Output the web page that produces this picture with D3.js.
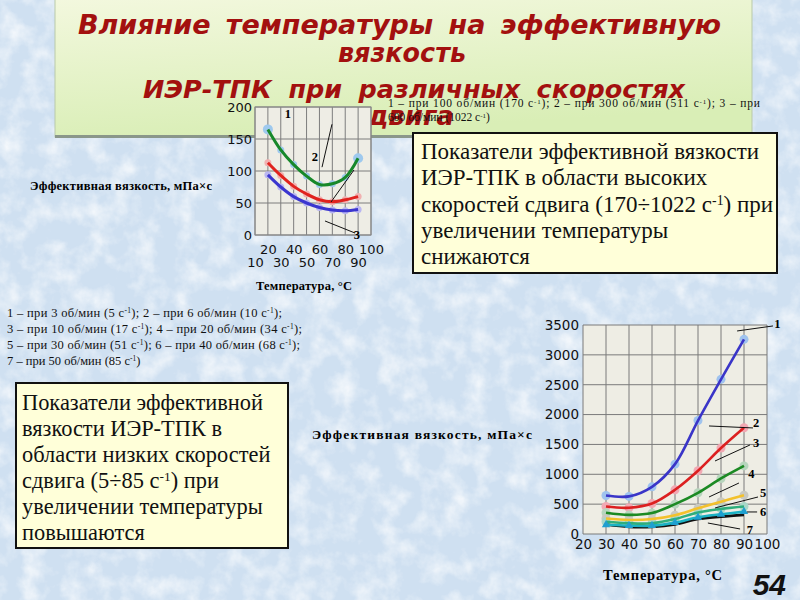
<!DOCTYPE html>
<html><head><meta charset="utf-8">
<script src="https://cdn.jsdelivr.net/npm/d3@7"></script>
<style>body{margin:0;background:#d5e5f3}svg{display:block}</style>
</head><body>
<svg id="c" width="800" height="600"></svg>
<script>
// ---------- data ----------
const titleLines = ["Влияние температуры на эффективную", "вязкость", "ИЭР-ТПК при различных скоростях", "сдвига"];

const smallTemps = [20, 30, 40, 50, 60, 70, 80, 90];
const smallSeries1 = [165, 133, 110, 92, 79, 80, 90, 120];
const smallSeries2 = [113, 93, 76, 64, 55, 52, 55, 60];
const smallSeries3 = [94, 75, 60, 50, 43, 39, 38, 40];
const smallYTicks = [0, 50, 100, 150, 200];
const smallXTicksA = [20, 40, 60, 80, 100];
const smallXTicksB = [10, 30, 50, 70, 90];
const smallCurveNames = ["1", "2", "3"];

const bigTemps = [30, 40, 50, 60, 70, 80, 90];
const bigSeries1 = [645, 630, 790, 1170, 1900, 2590, 3260];
const bigSeries2 = [460, 440, 510, 740, 1060, 1440, 1780];
const bigSeries3 = [355, 320, 350, 500, 690, 930, 1140];
const bigSeries4 = [260, 235, 250, 315, 430, 540, 650];
const bigSeries5 = [205, 180, 180, 250, 360, 420, 460];
const bigSeries6 = [155, 140, 140, 190, 280, 330, 375];
const bigSeries7 = [160, 120, 120, 160, 250, 290, 320];
const bigYTicks = [0, 500, 1000, 1500, 2000, 2500, 3000, 3500];
const bigXTicks = [20, 30, 40, 50, 60, 70, 80, 90, 100];
const bigCurveNames = ["1", "2", "3", "4", "5", "6", "7"];

const highLegend = ["1 – при 100 об/мин (170 с^-1^); 2 – при 300 об/мин (511 с^-1^); 3 – при", "600 об/мин (1022 с^-1^)"];
const lowLegend = ["1 – при 3  об/мин (5  с^-1^); 2 – при 6  об/мин (10  с^-1^);",
  "3 – при 10  об/мин (17  с^-1^); 4 – при 20  об/мин (34  с^-1^);",
  "5 – при 30  об/мин (51  с^-1^); 6 – при 40  об/мин (68  с^-1^);",
  "7 – при 50  об/мин (85  с^-1^)"];
const rightBoxLines = ["Показатели эффективной вязкости", "ИЭР-ТПК в области высоких", "скоростей сдвига (170÷1022 с^-1^) при", "увеличении температуры", "снижаются"];
const leftBoxLines = ["Показатели эффективной", "вязкости ИЭР-ТПК в", "области низких скоростей", "сдвига (5÷85 с^-1^) при", "увеличении температуры", "повышаются"];
const yTitle = "Эффективная вязкость, мПа×с";
const xTitle = "Температура, °С";
const pageNumber = "54";

// ---------- helpers ----------
const svg = d3.select("#c");
function richText(sel, str) {
  str.split("^").forEach((part, i) => {
    if (!part) return;
    const t = sel.append("tspan").text(part);
    if (i % 2 === 1) t.attr("baseline-shift", "super").attr("font-size", "60%");
  });
}

// ---------- background ----------
const defs = svg.append("defs");
const f = defs.append("filter").attr("id", "snow").attr("x", 0).attr("y", 0).attr("width", 1).attr("height", 1);
f.append("feTurbulence").attr("type", "fractalNoise").attr("baseFrequency", 0.045).attr("numOctaves", 4).attr("seed", 3);
f.append("feColorMatrix").attr("type", "matrix").attr("values", "0 0 0 0 1  0 0 0 0 1  0 0 0 0 1  1.8 0 0 0 -0.75");
svg.append("rect").attr("width", 800).attr("height", 600).attr("fill", "#cfe0f1");
svg.append("rect").attr("width", 800).attr("height", 600).attr("filter", "url(#snow)").attr("opacity", 0.85);

// ---------- title box ----------
const g1 = defs.append("linearGradient").attr("id", "tg").attr("x1", 0).attr("y1", 0).attr("x2", 0.3).attr("y2", 1);
g1.append("stop").attr("offset", 0).attr("stop-color", "#f3f8de");
g1.append("stop").attr("offset", 1).attr("stop-color", "#d9eeb6");
svg.append("rect").attr("x", 55).attr("y", -2).attr("width", 697).attr("height", 139)
  .attr("fill", "url(#tg)").attr("stroke", "#b9c9a9").attr("stroke-width", 1);
svg.append("rect").attr("x", 55).attr("y", 135).attr("width", 697).attr("height", 3).attr("fill", "#8a978a");

// [x start, baseline, target width, font size]
const titlePos = [[78, 34, 643, 27], [338, 62, 128, 26], [143, 98, 542, 25.5], [352, 125, 102, 26]];
svg.append("g").selectAll("text").data(titleLines).join("text")
  .attr("x", (d, i) => titlePos[i][0]).attr("y", (d, i) => titlePos[i][1])
  .attr("font-family", "DejaVu Sans").attr("font-weight", "bold").attr("font-style", "italic")
  .attr("font-size", (d, i) => titlePos[i][3]).attr("fill", "#a3100f").text(d => d)
  .each(function (d, i) {
    const el = d3.select(this);
    const nat = this.getComputedTextLength();
    const spaces = (d.match(/ /g) || []).length;
    if (spaces > 0) {
      el.attr("word-spacing", Math.max(0, (titlePos[i][2] - nat) / spaces));
    } else {
      el.attr("textLength", titlePos[i][2]).attr("lengthAdjust", "spacingAndGlyphs");
    }
  });

// ---------- small chart ----------
const xS = d3.scaleLinear().domain([10, 100]).range([255, 371]);
const yS = d3.scaleLinear().domain([0, 200]).range([235, 107]);
const sg = svg.append("g");
sg.append("rect").attr("x", xS(10)).attr("y", yS(200)).attr("width", xS(100) - xS(10)).attr("height", yS(0) - yS(200))
  .attr("fill", "#eeede5");
sg.append("g").selectAll("line").data(xS.ticks(9)).join("line")
  .attr("x1", d => xS(d)).attr("x2", d => xS(d)).attr("y1", yS(0)).attr("y2", yS(200))
  .attr("stroke", "#7d7d7d").attr("stroke-width", 1);
sg.append("g").selectAll("line").data(smallYTicks).join("line")
  .attr("x1", xS(10)).attr("x2", xS(100)).attr("y1", d => yS(d)).attr("y2", d => yS(d))
  .attr("stroke", "#7d7d7d").attr("stroke-width", 1);
sg.append("rect").attr("x", xS(10)).attr("y", yS(200)).attr("width", xS(100) - xS(10)).attr("height", yS(0) - yS(200))
  .attr("fill", "none").attr("stroke", "#8a8a8a");

function styleAxis(g, size) {
  g.select(".domain").remove();
  g.selectAll("line").remove();
  g.selectAll("text").attr("font-family", "DejaVu Sans").attr("font-size", size).attr("fill", "#111");
}
const fmt = d3.format("d");
sg.append("g").attr("transform", `translate(${xS(10) - 3},0)`)
  .call(d3.axisLeft(yS).tickValues(smallYTicks).tickFormat(fmt).tickSize(0).tickPadding(0))
  .call(g => styleAxis(g, 13));
sg.append("g").attr("transform", `translate(0,${yS(0)})`)
  .call(d3.axisBottom(xS).tickValues(smallXTicksA).tickFormat(fmt).tickSize(0).tickPadding(10))
  .call(g => styleAxis(g, 13));
sg.append("g").attr("transform", `translate(0,${yS(0)})`)
  .call(d3.axisBottom(xS).tickValues(smallXTicksB).tickFormat(fmt).tickSize(0).tickPadding(23))
  .call(g => styleAxis(g, 13));

const smallData = [smallSeries1, smallSeries2, smallSeries3];
const smallColors = ["#17882a", "#e0231f", "#3b36cf"];
const smallMarker = ["#9ec9ee", "#f1b1b1", "#b9b6f1"];
const lineS = d3.line().x((d, i) => xS(smallTemps[i])).y(d => yS(d)).curve(d3.curveCatmullRom.alpha(0.5));
smallData.forEach((s, k) => {
  sg.append("g").selectAll("circle").data(s).join("circle")
    .attr("cx", (d, i) => xS(smallTemps[i])).attr("cy", d => yS(d))
    .attr("r", (d, i) => (k === 0 && (i === 0 || i === s.length - 1)) ? 5 : 3.5)
    .attr("fill", smallMarker[k]);
  sg.append("path").datum(s).attr("d", lineS).attr("fill", "none")
    .attr("stroke", smallColors[k]).attr("stroke-width", 3);
});
const smallLeaders = [[69.7, 173, 62, 106], [69, 51.6, 86.8, 101.6], [64.3, 21.9, 87.6, 3.1]];
const smallLabelAt = [[35.6, 190], [56.5, 122], [89.1, 1]];
sg.append("g").selectAll("line").data(smallLeaders).join("line")
  .attr("x1", d => xS(d[0])).attr("y1", d => yS(d[1])).attr("x2", d => xS(d[2])).attr("y2", d => yS(d[3]))
  .attr("stroke", "#111").attr("stroke-width", 1);
sg.append("g").selectAll("text").data(smallCurveNames).join("text")
  .attr("x", (d, i) => xS(smallLabelAt[i][0])).attr("y", (d, i) => yS(smallLabelAt[i][1])).attr("dy", "0.35em")
  .attr("text-anchor", "middle").attr("font-family", "Liberation Serif").attr("font-weight", "bold")
  .attr("font-size", 12.5).text(d => d);

svg.append("text").attr("x", 30).attr("y", 190).attr("textLength", 182).attr("lengthAdjust", "spacing")
  .attr("font-family", "Liberation Serif").attr("font-weight", "bold").attr("font-size", 12.5).text(yTitle);
svg.append("text").attr("x", 256).attr("y", 290).attr("textLength", 96).attr("lengthAdjust", "spacing")
  .attr("font-family", "Liberation Serif").attr("font-weight", "bold").attr("font-size", 12.5).text(xTitle);

// high-speed legend
svg.append("g").selectAll("text").data(highLegend).join("text")
  .attr("x", 388).attr("y", (d, i) => 107 + i * 14)
  .attr("font-family", "Liberation Serif").attr("font-size", 11.5).attr("fill", "#111")
  .each(function (d, i) { const t = d3.select(this); richText(t, d); if (i === 0) t.attr("textLength", 372).attr("lengthAdjust", "spacing"); });

// ---------- right text box ----------
svg.append("rect").attr("x", 413).attr("y", 133).attr("width", 364).attr("height", 140)
  .attr("fill", "#ffffd9").attr("stroke", "#111").attr("stroke-width", 2);
svg.append("g").selectAll("text").data(rightBoxLines).join("text")
  .attr("x", 421).attr("y", (d, i) => 159 + i * 26.3)
  .attr("font-family", "Liberation Serif").attr("font-size", 23).attr("fill", "#111")
  .each(function (d) { richText(d3.select(this), d); });

// ---------- low-speed legend ----------
const lowLen = [275, 295, 293, null];
svg.append("g").selectAll("text").data(lowLegend).join("text")
  .attr("x", 7).attr("y", (d, i) => 317 + i * 16)
  .attr("font-family", "Liberation Serif").attr("font-size", 12.5).attr("fill", "#111")
  .each(function (d, i) { const t = d3.select(this); richText(t, d); if (lowLen[i]) t.attr("textLength", lowLen[i]).attr("lengthAdjust", "spacing"); });

// ---------- left text box ----------
svg.append("rect").attr("x", 16).attr("y", 383).attr("width", 272).attr("height", 165)
  .attr("fill", "#ffffd9").attr("stroke", "#111").attr("stroke-width", 2);
svg.append("g").selectAll("text").data(leftBoxLines).join("text")
  .attr("x", 22).attr("y", (d, i) => 410 + i * 26)
  .attr("font-family", "Liberation Serif").attr("font-size", 22.4).attr("fill", "#111")
  .each(function (d) { richText(d3.select(this), d); });

// ---------- big chart ----------
const xB = d3.scaleLinear().domain([20, 100]).range([583, 767]);
const yB = d3.scaleLinear().domain([0, 3500]).range([534, 325]);
const bg = svg.append("g");
bg.append("rect").attr("x", xB(20)).attr("y", yB(3500)).attr("width", xB(100) - xB(20)).attr("height", yB(0) - yB(3500))
  .attr("fill", "#eeede4");
bg.append("g").selectAll("line").data(bigXTicks).join("line")
  .attr("x1", d => xB(d)).attr("x2", d => xB(d)).attr("y1", yB(0)).attr("y2", yB(3500))
  .attr("stroke", "#7a7a7a").attr("stroke-width", 1);
bg.append("g").selectAll("line").data(bigYTicks).join("line")
  .attr("x1", xB(20)).attr("x2", xB(100)).attr("y1", d => yB(d)).attr("y2", d => yB(d))
  .attr("stroke", "#7a7a7a").attr("stroke-width", 1);
bg.append("g").attr("transform", `translate(${xB(20) - 4},0)`)
  .call(d3.axisLeft(yB).tickValues(bigYTicks).tickFormat(fmt).tickSize(0).tickPadding(0))
  .call(g => styleAxis(g, 13.5));
bg.append("g").attr("transform", `translate(0,${yB(0)})`)
  .call(d3.axisBottom(xB).tickValues(bigXTicks).tickFormat(fmt).tickSize(0).tickPadding(5))
  .call(g => styleAxis(g, 13.5));

const bigData = [bigSeries1, bigSeries2, bigSeries3, bigSeries4, bigSeries5, bigSeries6, bigSeries7];
const bigColors = ["#3a35c8", "#dc2020", "#1c8a23", "#f3c12c", "#2fae7c", "#1bb2c4", "#111111"];
const bigMarker = ["#9fc3ee", "#f1a9b3", "#b7d5bd", "#c9c9c1", "#a9d7c8", "#2aa8d0", "#2aa8d0"];
const lineB = d3.line().x((d, i) => xB(bigTemps[i])).y(d => yB(d)).curve(d3.curveCatmullRom.alpha(0.5));
bigData.forEach((s, k) => {
  if (k < 5) {
    bg.append("g").selectAll("circle").data(s).join("circle")
      .attr("cx", (d, i) => xB(bigTemps[i])).attr("cy", d => yB(d)).attr("r", 4.5).attr("fill", bigMarker[k]);
  }
});
bigData.slice().reverse().forEach((s, kr) => {
  const k = bigData.length - 1 - kr;
  bg.append("path").datum(s).attr("d", lineB).attr("fill", "none")
    .attr("stroke", bigColors[k]).attr("stroke-width", 2.6);
});
const tri = d3.symbol().type(d3.symbolTriangle).size(30);
bg.append("g").selectAll("path").data(bigSeries6).join("path")
  .attr("transform", (d, i) => `translate(${xB(bigTemps[i])},${yB(d)})`).attr("d", tri).attr("fill", "#1f9fd0");

const bigLeaders = [[87, 3400, 102.6, 3484], [74.8, 1809, 93.9, 1776], [77.4, 1223, 92.6, 1491],
  [74.8, 620, 87.8, 854], [77.4, 436, 96.1, 620], [91.3, 369, 95.7, 369], [74.3, 184, 88.3, 84]];
const bigLabelAt = [[104.5, 3530], [95.3, 1860], [95.3, 1525], [93.2, 1005], [98.3, 690], [98.3, 370], [92.6, 80]];
bg.append("g").selectAll("line").data(bigLeaders).join("line")
  .attr("x1", d => xB(d[0])).attr("y1", d => yB(d[1])).attr("x2", d => xB(d[2])).attr("y2", d => yB(d[3]))
  .attr("stroke", "#111").attr("stroke-width", 1);
bg.append("g").selectAll("text").data(bigCurveNames).join("text")
  .attr("x", (d, i) => xB(bigLabelAt[i][0])).attr("y", (d, i) => yB(bigLabelAt[i][1])).attr("dy", "0.35em")
  .attr("text-anchor", "middle").attr("font-family", "Liberation Serif").attr("font-weight", "bold")
  .attr("font-size", 12.5).text(d => d);

svg.append("text").attr("x", 312).attr("y", 439).attr("textLength", 220).attr("lengthAdjust", "spacing")
  .attr("font-family", "Liberation Serif").attr("font-weight", "bold").attr("font-size", 13.5).text(yTitle);
svg.append("text").attr("x", 603).attr("y", 580).attr("textLength", 119).attr("lengthAdjust", "spacing")
  .attr("font-family", "Liberation Serif").attr("font-weight", "bold").attr("font-size", 14.5).text(xTitle);

svg.append("text").attr("x", 786).attr("y", 595).attr("text-anchor", "end")
  .attr("font-family", "Liberation Sans").attr("font-weight", "bold").attr("font-style", "italic")
  .attr("font-size", 30).attr("fill", "#111").text(pageNumber);
</script>
</body></html>
